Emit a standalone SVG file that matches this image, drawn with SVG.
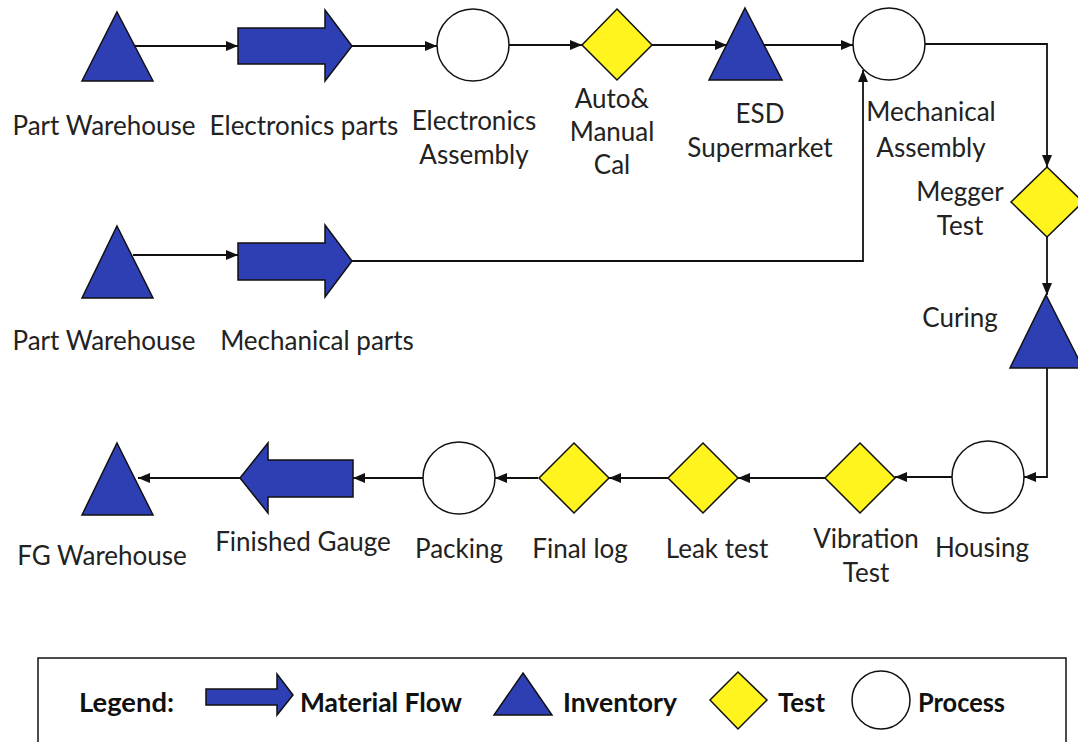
<svg xmlns="http://www.w3.org/2000/svg" width="1078" height="742" viewBox="0 0 1078 742">
<defs>
<style>
.inv{fill:#2E3EB3;stroke:#111;stroke-width:1.5}
.tst{fill:#FFF41E;stroke:#111;stroke-width:1.5}
.prc{fill:#fff;stroke:#111;stroke-width:1.5}
.flow{fill:#2E3EB3;stroke:#111;stroke-width:1.5}
.lbl{font-family:Lato,"Open Sans",sans-serif;font-size:26px;fill:#222;text-anchor:middle}
.lg{font-family:Lato,"Open Sans",sans-serif;font-size:26px;font-weight:bold;fill:#111}
.con{fill:none;stroke:#111;stroke-width:1.8}
</style>
<marker id="ah" viewBox="0 0 12 10" markerWidth="12" markerHeight="10" refX="12" refY="5" orient="auto" markerUnits="userSpaceOnUse">
<path d="M0,0 L12,5 L0,10 z" fill="#111"/>
</marker>
</defs>
<rect width="1078" height="742" fill="#fff"/>

<g id="connectors">
<path class="con" d="M133,46 H238" marker-end="url(#ah)"/>
<path class="con" d="M352,46 H437" marker-end="url(#ah)"/>
<path class="con" d="M509,45 H582" marker-end="url(#ah)"/>
<path class="con" d="M652,45 H727" marker-end="url(#ah)"/>
<path class="con" d="M762,45 H853" marker-end="url(#ah)"/>
<path class="con" d="M925,44 H1047 V167" marker-end="url(#ah)"/>
<path class="con" d="M1047,237 V295" marker-end="url(#ah)"/>
<path class="con" d="M1047,368 V477 H1024" marker-end="url(#ah)"/>
<path class="con" d="M952,477 H895" marker-end="url(#ah)"/>
<path class="con" d="M825,478 H738" marker-end="url(#ah)"/>
<path class="con" d="M668,478 H609" marker-end="url(#ah)"/>
<path class="con" d="M538,478 H495" marker-end="url(#ah)"/>
<path class="con" d="M423,478 H353" marker-end="url(#ah)"/>
<path class="con" d="M240,478 H138" marker-end="url(#ah)"/>
<path class="con" d="M133,255 H238" marker-end="url(#ah)"/>
<path class="con" d="M352,261 H863 V70" marker-end="url(#ah)"/>
</g>

<g id="part-warehouse-1">
<polygon class="inv" points="117,12 153,81 82,81"/>
<text class="lbl" x="104" y="135">Part Warehouse</text>
</g>
<g id="electronics-parts">
<polygon class="flow" points="238,28 325,28 325,10 352,46 325,81 325,64 238,64"/>
<text class="lbl" x="304" y="135">Electronics parts</text>
</g>
<g id="electronics-assembly">
<circle class="prc" cx="473" cy="45" r="36"/>
<text class="lbl" x="474" y="130">Electronics</text>
<text class="lbl" x="474" y="164">Assembly</text>
</g>
<g id="auto-manual-cal">
<polygon class="tst" points="617,9 652,45 617,80 582,45"/>
<text class="lbl" x="612" y="108">Auto&amp;</text>
<text class="lbl" x="612" y="141">Manual</text>
<text class="lbl" x="612" y="174">Cal</text>
</g>
<g id="esd-supermarket">
<polygon class="inv" points="745,8 782,80 709,80"/>
<text class="lbl" x="760" y="123">ESD</text>
<text class="lbl" x="760" y="157">Supermarket</text>
</g>
<g id="mechanical-assembly">
<circle class="prc" cx="889" cy="44" r="36"/>
<text class="lbl" x="931" y="121">Mechanical</text>
<text class="lbl" x="931" y="157">Assembly</text>
</g>
<g id="megger-test">
<polygon class="tst" points="1047,167 1083,202 1047,237 1011,202"/>
<text class="lbl" x="960" y="201">Megger</text>
<text class="lbl" x="960" y="235">Test</text>
</g>
<g id="curing">
<polygon class="inv" points="1046,295 1083,368 1010,368"/>
<text class="lbl" x="960" y="327">Curing</text>
</g>
<g id="part-warehouse-2">
<polygon class="inv" points="117,226 153,298 82,298"/>
<text class="lbl" x="104" y="350">Part Warehouse</text>
</g>
<g id="mechanical-parts">
<polygon class="flow" points="238,243 325,243 325,225 352,261 325,297 325,280 238,280"/>
<text class="lbl" x="317" y="350">Mechanical parts</text>
</g>
<g id="housing">
<circle class="prc" cx="988" cy="477" r="36"/>
<text class="lbl" x="982" y="557">Housing</text>
</g>
<g id="vibration-test">
<polygon class="tst" points="860,443 895,478 860,513 825,478"/>
<text class="lbl" x="866" y="548">Vibration</text>
<text class="lbl" x="866" y="582">Test</text>
</g>
<g id="leak-test">
<polygon class="tst" points="703,443 738,478 703,513 668,478"/>
<text class="lbl" x="717" y="558">Leak test</text>
</g>
<g id="final-log">
<polygon class="tst" points="574,443 609,478 574,513 539,478"/>
<text class="lbl" x="580" y="558">Final log</text>
</g>
<g id="packing">
<circle class="prc" cx="459" cy="478" r="36"/>
<text class="lbl" x="459" y="558">Packing</text>
</g>
<g id="finished-gauge">
<polygon class="flow" points="240,478 268,443 268,460 353,460 353,497 268,497 268,513"/>
<text class="lbl" x="303" y="551">Finished Gauge</text>
</g>
<g id="fg-warehouse">
<polygon class="inv" points="117,443 153,515 82,515"/>
<text class="lbl" x="102" y="565">FG Warehouse</text>
</g>

<g id="legend">
<rect x="38" y="658" width="1028" height="100" fill="none" stroke="#111" stroke-width="1.5"/>
<text class="lg" x="79" y="712" textLength="95" lengthAdjust="spacingAndGlyphs">Legend:</text>
<polygon class="flow" points="206,689 277,689 277,674 293,695 277,715 277,705 206,705"/>
<text class="lg" x="300" y="712" textLength="162" lengthAdjust="spacingAndGlyphs">Material Flow</text>
<polygon class="inv" points="523,673 552,715 494,715"/>
<text class="lg" x="563" y="712" textLength="114" lengthAdjust="spacingAndGlyphs">Inventory</text>
<polygon class="tst" points="738,672 767,700 738,729 710,700"/>
<text class="lg" x="778" y="712" textLength="47" lengthAdjust="spacingAndGlyphs">Test</text>
<circle class="prc" cx="881" cy="700" r="29"/>
<text class="lg" x="918" y="712" textLength="87" lengthAdjust="spacingAndGlyphs">Process</text>
</g>
</svg>
